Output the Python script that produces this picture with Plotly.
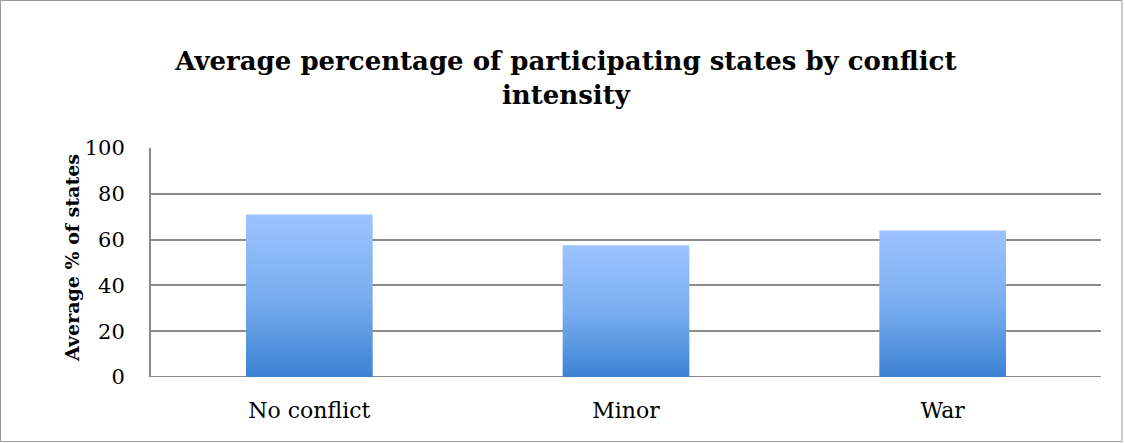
import plotly.graph_objects as go

categories = ["No conflict", "Minor", "War"]
values = [71, 57.5, 64]
y_ticks = [0, 20, 40, 60, 80, 100]

title_text = "Average percentage of participating states by conflict<br>intensity"
y_title = "Average % of states"

W, H = 1125, 443
L, R, T, B = 151, 24, 148, 66
pw, ph = W - L - R, H - T - B
bar_w = 0.40
font_family = "DejaVu Serif, serif"

fig = go.Figure()
for i, (cat, v) in enumerate(zip(categories, values)):
    x0, x1 = i - bar_w / 2, i + bar_w / 2
    fig.add_trace(go.Scatter(
        x=[x0, x1, x1, x0, x0], y=[0, 0, v, v, 0],
        mode="lines", fill="toself", line=dict(width=0),
        fillgradient=dict(type="vertical",
                          colorscale=[[0, "#3c82d2"], [0.5, "#7aaef0"], [1, "#9cc3ff"]]),
        hoverinfo="text", text=f"{cat}: {v}", showlegend=False,
    ))

fig.update_layout(
    width=W, height=H,
    margin=dict(l=L, r=R, t=T, b=B),
    paper_bgcolor="white", plot_bgcolor="white",
    font=dict(family=font_family, size=20, color="black"),
    title=dict(text=title_text, x=0.503, xanchor="center", y=1 - 70 / H, yanchor="middle",
               font=dict(size=26, family=font_family, weight="bold")),
    xaxis=dict(range=[-0.5, 2.5], tickvals=list(range(len(categories))), ticktext=categories,
               showgrid=False, zeroline=False, showline=False, ticks="",
               tickfont=dict(size=22), ticklabelstandoff=18),
    yaxis=dict(range=[0, 100], tickvals=y_ticks, showgrid=True, gridcolor="#8a8a8a", gridwidth=2,
               zeroline=False, showline=True, linecolor="#8a8a8a", linewidth=2,
               ticks="", tickfont=dict(size=21), ticklabelstandoff=20),
    annotations=[dict(text=f"<b>{y_title}</b>", textangle=-90, xref="paper", yref="paper",
                      x=(72 - L) / pw, y=0.52, showarrow=False, font=dict(size=19),
                      xanchor="center", yanchor="middle")],
    shapes=[dict(type="rect", xref="paper", yref="paper",
                 x0=(0.5 - L) / pw, x1=(1122 - L) / pw,
                 y0=(1.5 - B) / ph, y1=(H - 0.5 - B) / ph,
                 line=dict(color="#9a9a9a", width=1), layer="below")],
)
fig.add_hline(y=0, line=dict(color="#8a8a8a", width=2), layer="below")

fig.write_html("out.html", config={"displayModeBar": False},
               post_script="document.body.style.margin='0';document.body.style.padding='0';")
